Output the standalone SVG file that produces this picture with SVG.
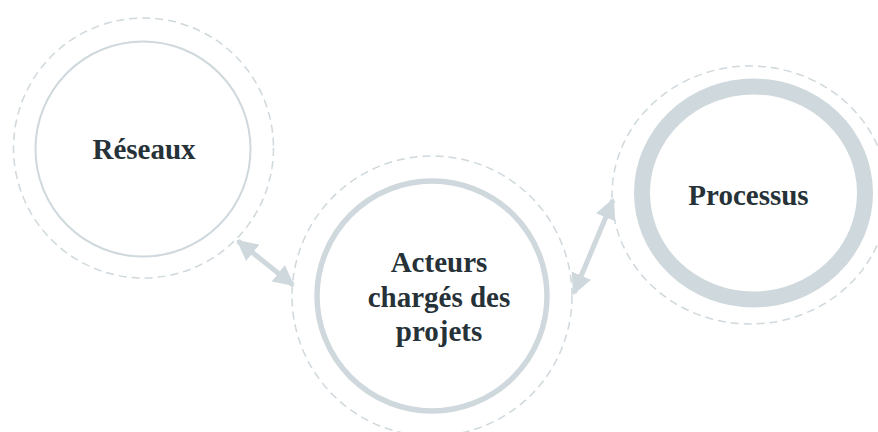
<svg xmlns="http://www.w3.org/2000/svg" width="878" height="432" viewBox="0 0 878 432">
<style>
.dash{fill:none;stroke:#cfd8dc;stroke-width:1.5;stroke-dasharray:8 5}
.ring{fill:#ffffff;stroke:#cfd8dc}
.lbl{font-family:"Liberation Serif","Times New Roman",serif;font-weight:bold;font-size:29px;fill:#263238;text-anchor:middle}
.conn{stroke:#cfd8dc;stroke-width:5;fill:none}
</style>
<defs>
<marker id="ah" viewBox="0 0 10 10" refX="9" refY="5" markerWidth="4.2" markerHeight="4.2" orient="auto-start-reverse" markerUnits="strokeWidth">
<path d="M0,0 L10,5 L0,10 z" fill="#cfd8dc"/>
</marker>
</defs>
<rect width="878" height="432" fill="#ffffff"/>
<g id="node-reseaux">
<circle class="dash" cx="143.5" cy="148" r="130"/>
<circle class="ring" cx="143" cy="149" r="107.5" stroke-width="2"/>
<text class="lbl" x="144" y="159">Réseaux</text>
</g>
<g id="node-acteurs">
<circle class="dash" cx="432" cy="296" r="140"/>
<circle class="ring" cx="432" cy="296" r="115" stroke-width="5.5"/>
<text class="lbl" x="439" y="272">Acteurs</text>
<text class="lbl" x="439" y="307">chargés des</text>
<text class="lbl" x="439" y="341">projets</text>
</g>
<g id="node-processus">
<ellipse class="dash" cx="750" cy="195" rx="138" ry="129"/>
<ellipse class="ring" cx="753.5" cy="193" rx="111.5" ry="106.5" stroke-width="16"/>
<text class="lbl" x="748.5" y="205">Processus</text>
</g>
<g id="connectors">
<line class="conn" x1="238" y1="241" x2="293" y2="285" marker-start="url(#ah)" marker-end="url(#ah)"/>
<line class="conn" x1="613" y1="200" x2="574" y2="293" marker-start="url(#ah)" marker-end="url(#ah)"/>
</g>
</svg>
